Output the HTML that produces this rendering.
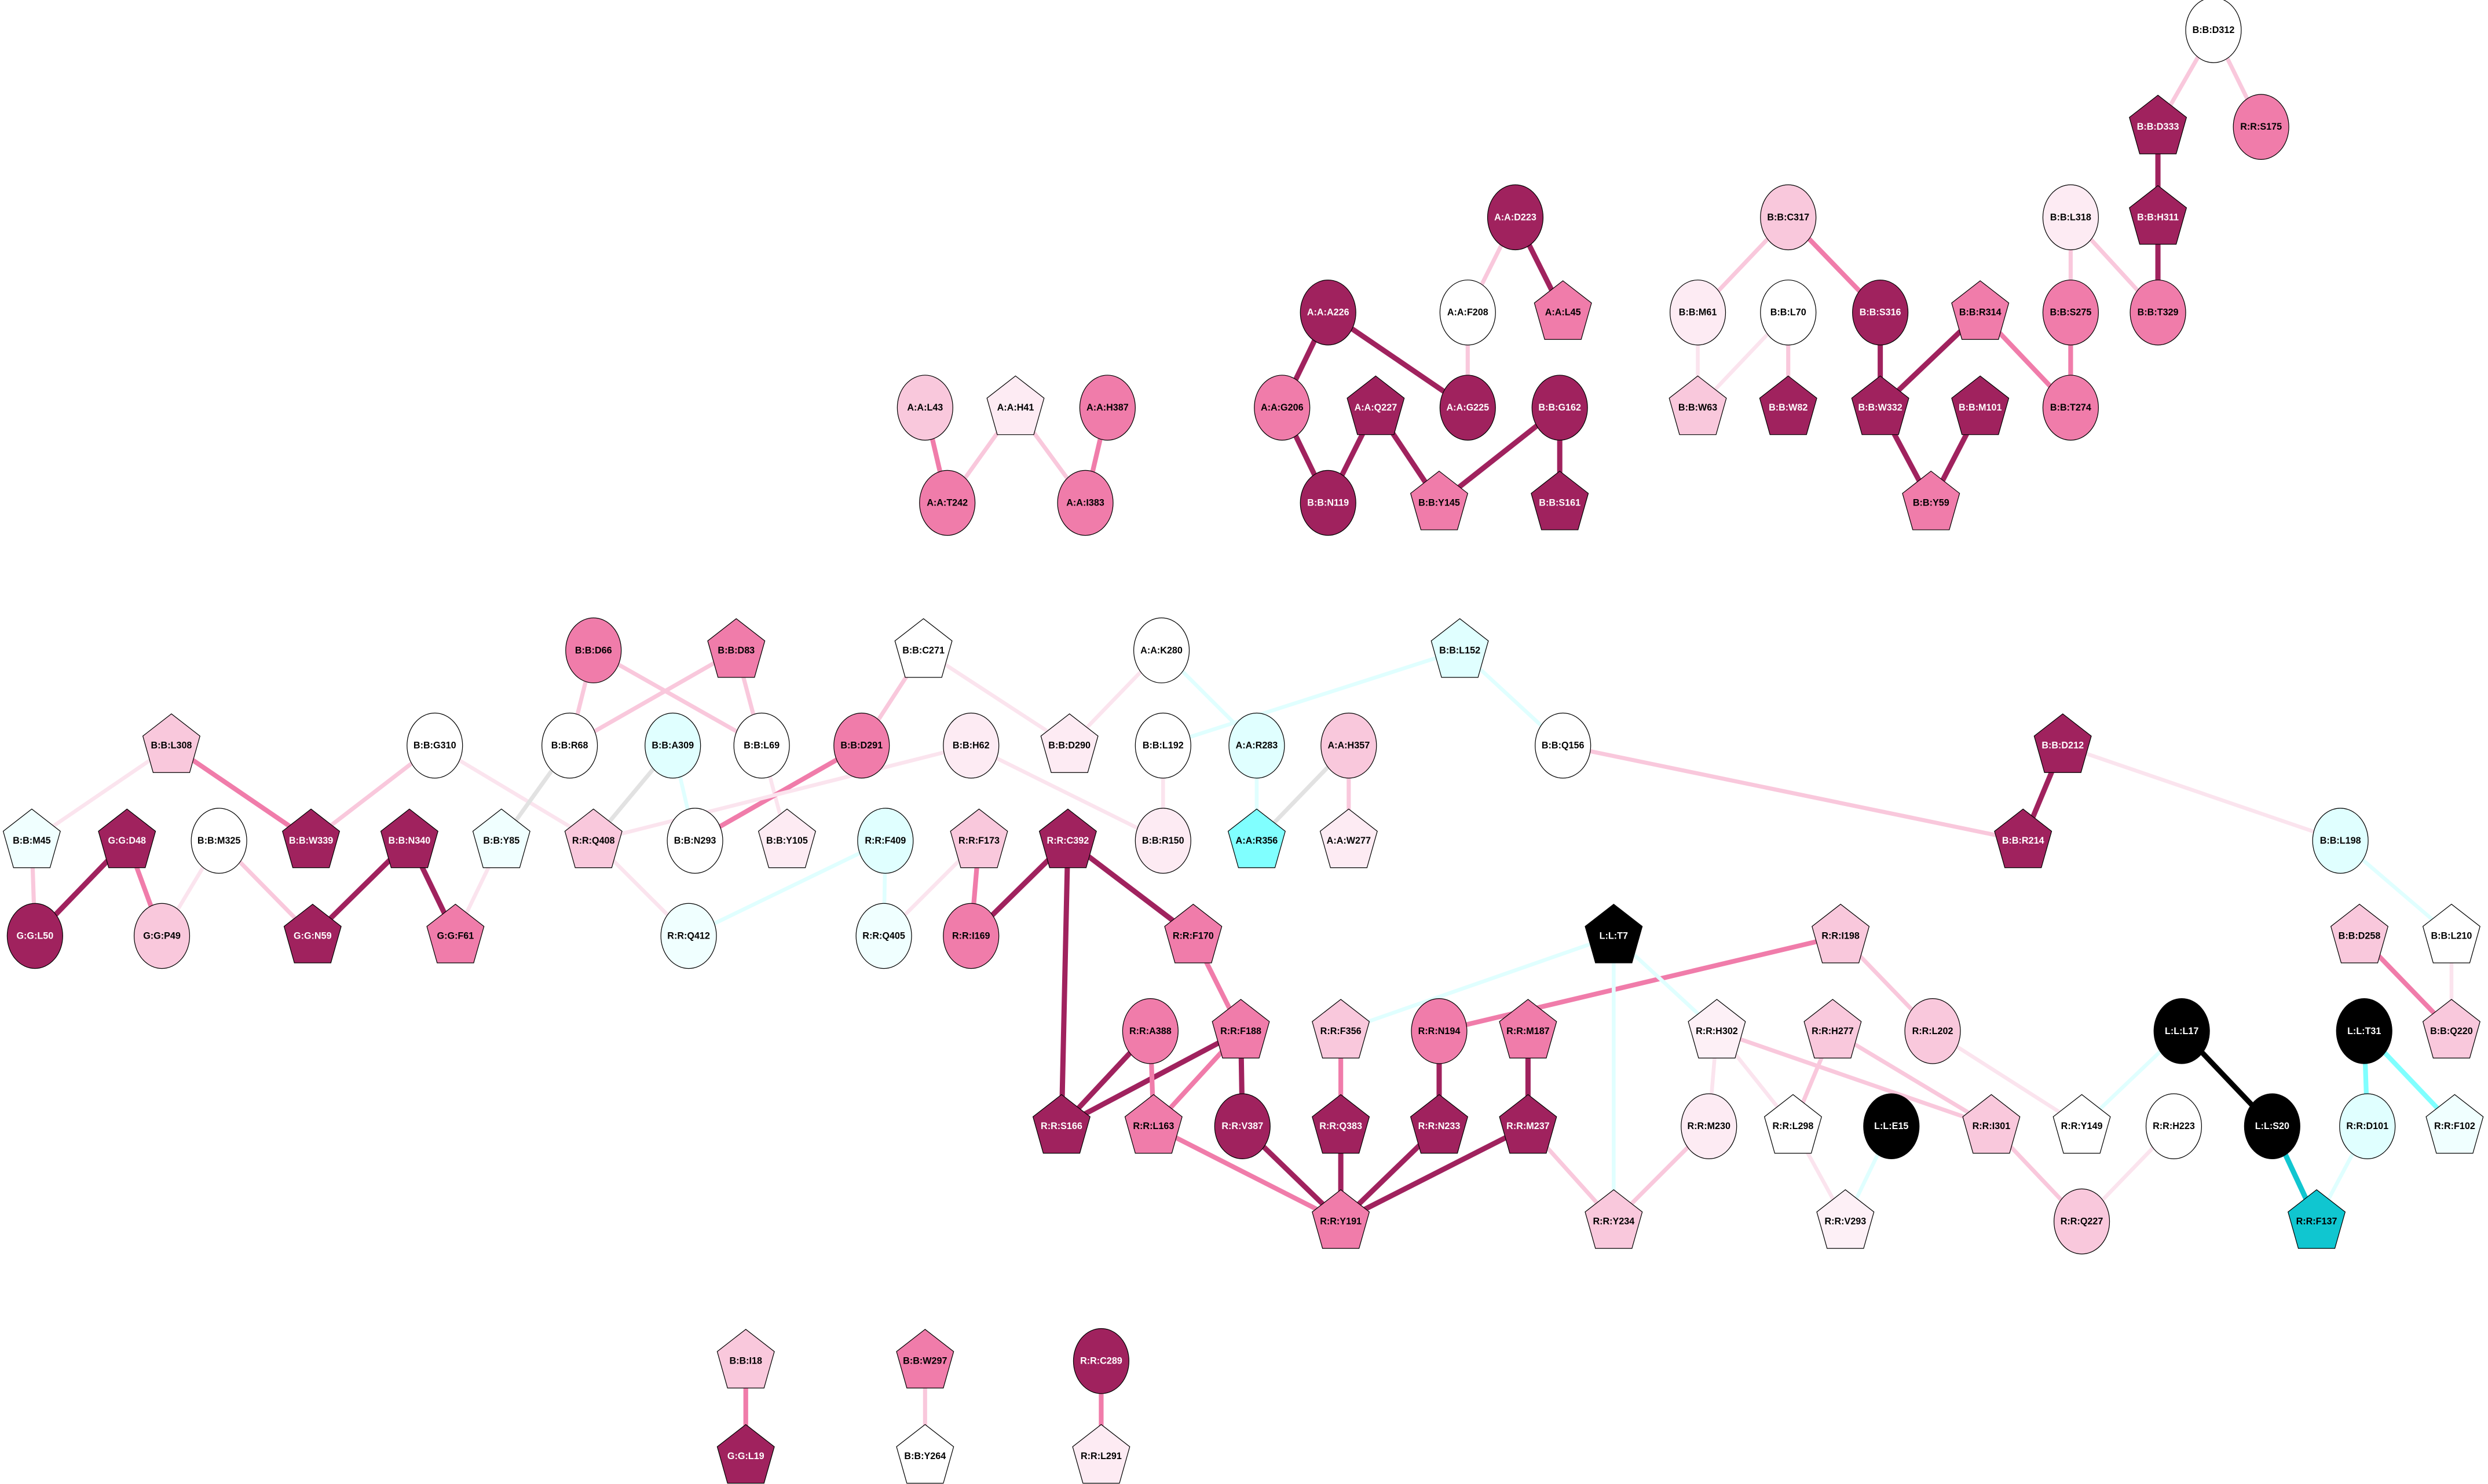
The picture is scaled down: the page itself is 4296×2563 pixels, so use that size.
<!DOCTYPE html>
<html><head><meta charset="utf-8"><style>
html,body{margin:0;padding:0;background:#fff;width:4296px;height:2563px;overflow:hidden}
svg{display:block}
text{font-family:"Liberation Sans",Arial,sans-serif;font-weight:bold;font-size:5.9px;text-anchor:middle;dominant-baseline:central}
.w{fill:#fff}
line{stroke-linecap:butt}
.d{stroke:#a0225e;stroke-width:3.3}
.m{stroke:#f07caa;stroke-width:3}
.l{stroke:#f9c8dc;stroke-width:2.6}
.v{stroke:#fbe4ee;stroke-width:2.4}
.c{stroke:#e0ffff;stroke-width:2.4}
.g{stroke:#e2e2e2;stroke-width:2.6}
.cc{stroke:#80ffff;stroke-width:3}
.k{stroke:#000;stroke-width:3.3}
.dc{stroke:#10c6d0;stroke-width:3.3}
ellipse,use{stroke:#000;stroke-width:0.45}
</style></head><body>
<svg width="4296" height="2563" viewBox="0 0 1568 935.5" xmlns="http://www.w3.org/2000/svg">
<defs><polygon id="p" points="0,-20 18,-6 11.5,17 -11.5,17 -18,-6"/></defs>
<g>
<line class="l" x1="1395" y1="19" x2="1360" y2="80"/>
<line class="l" x1="1395" y1="19" x2="1425" y2="80"/>
<line class="d" x1="1360" y1="80" x2="1360" y2="137"/>
<line class="d" x1="1360" y1="137" x2="1360" y2="197"/>
<line class="l" x1="1305" y1="137" x2="1360" y2="197"/>
<line class="l" x1="1305" y1="137" x2="1305" y2="197"/>
<line class="m" x1="1305" y1="197" x2="1305" y2="257"/>
<line class="m" x1="1248" y1="197" x2="1305" y2="257"/>
<line class="d" x1="1248" y1="197" x2="1185" y2="257"/>
<line class="d" x1="1185" y1="197" x2="1185" y2="257"/>
<line class="m" x1="1127" y1="137" x2="1185" y2="197"/>
<line class="l" x1="1127" y1="137" x2="1070" y2="197"/>
<line class="d" x1="1185" y1="257" x2="1217" y2="317"/>
<line class="d" x1="1248" y1="257" x2="1217" y2="317"/>
<line class="v" x1="1070" y1="197" x2="1070" y2="257"/>
<line class="v" x1="1127" y1="197" x2="1070" y2="257"/>
<line class="l" x1="1127" y1="197" x2="1127" y2="257"/>
<line class="l" x1="955" y1="137" x2="925" y2="197"/>
<line class="d" x1="955" y1="137" x2="985" y2="197"/>
<line class="l" x1="925" y1="197" x2="925" y2="257"/>
<line class="d" x1="837" y1="197" x2="925" y2="257"/>
<line class="d" x1="837" y1="197" x2="808" y2="257"/>
<line class="d" x1="808" y1="257" x2="837" y2="317"/>
<line class="d" x1="867" y1="257" x2="837" y2="317"/>
<line class="d" x1="867" y1="257" x2="907" y2="317"/>
<line class="d" x1="983" y1="257" x2="907" y2="317"/>
<line class="d" x1="983" y1="257" x2="983" y2="317"/>
<line class="m" x1="583" y1="257" x2="597" y2="317"/>
<line class="l" x1="640" y1="257" x2="597" y2="317"/>
<line class="l" x1="640" y1="257" x2="684" y2="317"/>
<line class="m" x1="698" y1="257" x2="684" y2="317"/>

<line class="l" x1="374" y1="410" x2="359" y2="470"/>
<line class="l" x1="374" y1="410" x2="480" y2="470"/>
<line class="l" x1="464" y1="410" x2="359" y2="470"/>
<line class="l" x1="464" y1="410" x2="480" y2="470"/>
<line class="l" x1="582" y1="410" x2="543" y2="470"/>
<line class="v" x1="582" y1="410" x2="674" y2="470"/>
<line class="v" x1="732" y1="410" x2="674" y2="470"/>
<line class="c" x1="732" y1="410" x2="792" y2="470"/>
<line class="c" x1="920" y1="410" x2="733" y2="470"/>
<line class="c" x1="920" y1="410" x2="985" y2="470"/>
<line class="m" x1="108" y1="470" x2="196" y2="530"/>
<line class="v" x1="108" y1="470" x2="20" y2="530"/>
<line class="l" x1="20" y1="530" x2="22" y2="590"/>
<line class="d" x1="80" y1="530" x2="22" y2="590"/>
<line class="m" x1="80" y1="530" x2="102" y2="590"/>
<line class="v" x1="138" y1="530" x2="102" y2="590"/>
<line class="l" x1="138" y1="530" x2="197" y2="590"/>
<line class="l" x1="274" y1="470" x2="196" y2="530"/>
<line class="v" x1="274" y1="470" x2="374" y2="530"/>
<line class="d" x1="258" y1="530" x2="197" y2="590"/>
<line class="d" x1="258" y1="530" x2="287" y2="590"/>
<line class="g" x1="359" y1="470" x2="316" y2="530"/>
<line class="v" x1="316" y1="530" x2="287" y2="590"/>
<line class="g" x1="424" y1="470" x2="374" y2="530"/>
<line class="c" x1="424" y1="470" x2="438" y2="530"/>
<line class="v" x1="480" y1="470" x2="496" y2="530"/>
<line class="m" x1="543" y1="470" x2="438" y2="530"/>
<line class="v" x1="612" y1="470" x2="374" y2="530"/>
<line class="v" x1="612" y1="470" x2="733" y2="530"/>
<line class="v" x1="733" y1="470" x2="733" y2="530"/>
<line class="c" x1="792" y1="470" x2="792" y2="530"/>
<line class="g" x1="850" y1="470" x2="792" y2="530"/>
<line class="l" x1="850" y1="470" x2="850" y2="530"/>
<line class="l" x1="985" y1="470" x2="1275" y2="530"/>
<line class="d" x1="1300" y1="470" x2="1275" y2="530"/>
<line class="v" x1="1300" y1="470" x2="1475" y2="530"/>
<line class="c" x1="1475" y1="530" x2="1545" y2="590"/>
<line class="v" x1="374" y1="530" x2="434" y2="590"/>
<line class="c" x1="558" y1="530" x2="434" y2="590"/>
<line class="c" x1="558" y1="530" x2="557" y2="590"/>
<line class="m" x1="617" y1="530" x2="612" y2="590"/>
<line class="v" x1="617" y1="530" x2="557" y2="590"/>
<line class="d" x1="673" y1="530" x2="612" y2="590"/>
<line class="d" x1="673" y1="530" x2="752" y2="590"/>
<line class="d" x1="673" y1="530" x2="669" y2="710"/>
<line class="m" x1="752" y1="590" x2="782" y2="650"/>
<line class="d" x1="782" y1="650" x2="669" y2="710"/>
<line class="m" x1="782" y1="650" x2="727" y2="710"/>
<line class="d" x1="782" y1="650" x2="783" y2="710"/>
<line class="d" x1="725" y1="650" x2="669" y2="710"/>
<line class="m" x1="725" y1="650" x2="727" y2="710"/>
<line class="m" x1="727" y1="710" x2="845" y2="770"/>
<line class="d" x1="783" y1="710" x2="845" y2="770"/>
<line class="d" x1="845" y1="710" x2="845" y2="770"/>
<line class="m" x1="845" y1="650" x2="845" y2="710"/>
<line class="d" x1="907" y1="710" x2="845" y2="770"/>
<line class="d" x1="907" y1="650" x2="907" y2="710"/>
<line class="m" x1="907" y1="650" x2="1160" y2="590"/>
<line class="d" x1="963" y1="710" x2="845" y2="770"/>
<line class="d" x1="963" y1="650" x2="963" y2="710"/>
<line class="l" x1="963" y1="710" x2="1017" y2="770"/>
<line class="c" x1="1017" y1="590" x2="845" y2="650"/>
<line class="c" x1="1017" y1="590" x2="1082" y2="650"/>
<line class="c" x1="1017" y1="590" x2="1017" y2="770"/>
<line class="v" x1="1082" y1="650" x2="1077" y2="710"/>
<line class="l" x1="1082" y1="650" x2="1255" y2="710"/>
<line class="v" x1="1082" y1="650" x2="1130" y2="710"/>
<line class="l" x1="1155" y1="650" x2="1130" y2="710"/>
<line class="l" x1="1155" y1="650" x2="1255" y2="710"/>
<line class="v" x1="1130" y1="710" x2="1163" y2="770"/>
<line class="c" x1="1192" y1="710" x2="1163" y2="770"/>
<line class="l" x1="1160" y1="590" x2="1218" y2="650"/>
<line class="v" x1="1218" y1="650" x2="1312" y2="710"/>
<line class="c" x1="1375" y1="650" x2="1312" y2="710"/>
<line class="k" x1="1375" y1="650" x2="1432" y2="710"/>
<line class="l" x1="1255" y1="710" x2="1312" y2="770"/>
<line class="v" x1="1370" y1="710" x2="1312" y2="770"/>
<line class="dc" x1="1432" y1="710" x2="1460" y2="770"/>
<line class="c" x1="1492" y1="710" x2="1460" y2="770"/>
<line class="cc" x1="1490" y1="650" x2="1492" y2="710"/>
<line class="cc" x1="1490" y1="650" x2="1547" y2="710"/>
<line class="m" x1="1487" y1="590" x2="1545" y2="650"/>
<line class="v" x1="1545" y1="590" x2="1545" y2="650"/>
<line class="l" x1="1077" y1="710" x2="1017" y2="770"/>
<line class="m" x1="470" y1="858" x2="470" y2="918"/>
<line class="l" x1="583" y1="858" x2="583" y2="918"/>
<line class="m" x1="694" y1="858" x2="694" y2="918"/>
</g>

<!-- nodes -->
<g>
<g transform="translate(1395,19)"><ellipse rx="17.5" ry="20.5" fill="#fff"/><text>B:B:D312</text></g>
<g transform="translate(1360,80)"><use href="#p" fill="#a0225e"/><text class="w">B:B:D333</text></g>
<g transform="translate(1425,80)"><ellipse rx="17.5" ry="20.5" fill="#f07caa"/><text>R:R:S175</text></g>
<g transform="translate(1360,137)"><use href="#p" fill="#a0225e"/><text class="w">B:B:H311</text></g>
<g transform="translate(1305,137)"><ellipse rx="17.5" ry="20.5" fill="#fdebf3"/><text>B:B:L318</text></g>
<g transform="translate(1360,197)"><ellipse rx="17.5" ry="20.5" fill="#f07caa"/><text>B:B:T329</text></g>
<g transform="translate(1305,197)"><ellipse rx="17.5" ry="20.5" fill="#f07caa"/><text>B:B:S275</text></g>
<g transform="translate(1305,257)"><ellipse rx="17.5" ry="20.5" fill="#f07caa"/><text>B:B:T274</text></g>
<g transform="translate(1248,197)"><use href="#p" fill="#f07caa"/><text>B:B:R314</text></g>
<g transform="translate(1248,257)"><use href="#p" fill="#a0225e"/><text class="w">B:B:M101</text></g>
<g transform="translate(1185,197)"><ellipse rx="17.5" ry="20.5" fill="#a0225e"/><text class="w">B:B:S316</text></g>
<g transform="translate(1185,257)"><use href="#p" fill="#a0225e"/><text class="w">B:B:W332</text></g>
<g transform="translate(1217,317)"><use href="#p" fill="#f07caa"/><text>B:B:Y59</text></g>
<g transform="translate(1127,137)"><ellipse rx="17.5" ry="20.5" fill="#f9c8dc"/><text>B:B:C317</text></g>
<g transform="translate(1070,197)"><ellipse rx="17.5" ry="20.5" fill="#fdebf3"/><text>B:B:M61</text></g>
<g transform="translate(1070,257)"><use href="#p" fill="#f9c8dc"/><text>B:B:W63</text></g>
<g transform="translate(1127,197)"><ellipse rx="17.5" ry="20.5" fill="#fff"/><text>B:B:L70</text></g>
<g transform="translate(1127,257)"><use href="#p" fill="#a0225e"/><text class="w">B:B:W82</text></g>
<g transform="translate(955,137)"><ellipse rx="17.5" ry="20.5" fill="#a0225e"/><text class="w">A:A:D223</text></g>
<g transform="translate(925,197)"><ellipse rx="17.5" ry="20.5" fill="#fff"/><text>A:A:F208</text></g>
<g transform="translate(985,197)"><use href="#p" fill="#f07caa"/><text>A:A:L45</text></g>
<g transform="translate(837,197)"><ellipse rx="17.5" ry="20.5" fill="#a0225e"/><text class="w">A:A:A226</text></g>
<g transform="translate(808,257)"><ellipse rx="17.5" ry="20.5" fill="#f07caa"/><text>A:A:G206</text></g>
<g transform="translate(925,257)"><ellipse rx="17.5" ry="20.5" fill="#a0225e"/><text class="w">A:A:G225</text></g>
<g transform="translate(867,257)"><use href="#p" fill="#a0225e"/><text class="w">A:A:Q227</text></g>
<g transform="translate(983,257)"><ellipse rx="17.5" ry="20.5" fill="#a0225e"/><text class="w">B:B:G162</text></g>
<g transform="translate(837,317)"><ellipse rx="17.5" ry="20.5" fill="#a0225e"/><text class="w">B:B:N119</text></g>
<g transform="translate(907,317)"><use href="#p" fill="#f07caa"/><text>B:B:Y145</text></g>
<g transform="translate(983,317)"><use href="#p" fill="#a0225e"/><text class="w">B:B:S161</text></g>
<g transform="translate(583,257)"><ellipse rx="17.5" ry="20.5" fill="#f9c8dc"/><text>A:A:L43</text></g>
<g transform="translate(640,257)"><use href="#p" fill="#fdebf3"/><text>A:A:H41</text></g>
<g transform="translate(698,257)"><ellipse rx="17.5" ry="20.5" fill="#f07caa"/><text>A:A:H387</text></g>
<g transform="translate(597,317)"><ellipse rx="17.5" ry="20.5" fill="#f07caa"/><text>A:A:T242</text></g>
<g transform="translate(684,317)"><ellipse rx="17.5" ry="20.5" fill="#f07caa"/><text>A:A:I383</text></g>

<g transform="translate(374,410)"><ellipse rx="17.5" ry="20.5" fill="#f07caa"/><text>B:B:D66</text></g>
<g transform="translate(464,410)"><use href="#p" fill="#f07caa"/><text>B:B:D83</text></g>
<g transform="translate(582,410)"><use href="#p" fill="#fff"/><text>B:B:C271</text></g>
<g transform="translate(732,410)"><ellipse rx="17.5" ry="20.5" fill="#fff"/><text>A:A:K280</text></g>
<g transform="translate(920,410)"><use href="#p" fill="#e0ffff"/><text>B:B:L152</text></g>
<g transform="translate(108,470)"><use href="#p" fill="#f9c8dc"/><text>B:B:L308</text></g>
<g transform="translate(274,470)"><ellipse rx="17.5" ry="20.5" fill="#fff"/><text>B:B:G310</text></g>
<g transform="translate(359,470)"><ellipse rx="17.5" ry="20.5" fill="#fff"/><text>B:B:R68</text></g>
<g transform="translate(424,470)"><ellipse rx="17.5" ry="20.5" fill="#e0ffff"/><text>B:B:A309</text></g>
<g transform="translate(480,470)"><ellipse rx="17.5" ry="20.5" fill="#fff"/><text>B:B:L69</text></g>
<g transform="translate(543,470)"><ellipse rx="17.5" ry="20.5" fill="#f07caa"/><text>B:B:D291</text></g>
<g transform="translate(612,470)"><ellipse rx="17.5" ry="20.5" fill="#fdebf3"/><text>B:B:H62</text></g>
<g transform="translate(674,470)"><use href="#p" fill="#fdebf3"/><text>B:B:D290</text></g>
<g transform="translate(733,470)"><ellipse rx="17.5" ry="20.5" fill="#fff"/><text>B:B:L192</text></g>
<g transform="translate(792,470)"><ellipse rx="17.5" ry="20.5" fill="#e0ffff"/><text>A:A:R283</text></g>
<g transform="translate(850,470)"><ellipse rx="17.5" ry="20.5" fill="#f9c8dc"/><text>A:A:H357</text></g>
<g transform="translate(985,470)"><ellipse rx="17.5" ry="20.5" fill="#fff"/><text>B:B:Q156</text></g>
<g transform="translate(1300,470)"><use href="#p" fill="#a0225e"/><text class="w">B:B:D212</text></g>
<g transform="translate(20,530)"><use href="#p" fill="#f0ffff"/><text>B:B:M45</text></g>
<g transform="translate(80,530)"><use href="#p" fill="#a0225e"/><text class="w">G:G:D48</text></g>
<g transform="translate(138,530)"><ellipse rx="17.5" ry="20.5" fill="#fff"/><text>B:B:M325</text></g>
<g transform="translate(196,530)"><use href="#p" fill="#a0225e"/><text class="w">B:B:W339</text></g>
<g transform="translate(258,530)"><use href="#p" fill="#a0225e"/><text class="w">B:B:N340</text></g>
<g transform="translate(316,530)"><use href="#p" fill="#f0ffff"/><text>B:B:Y85</text></g>
<g transform="translate(374,530)"><use href="#p" fill="#f9c8dc"/><text>R:R:Q408</text></g>
<g transform="translate(438,530)"><ellipse rx="17.5" ry="20.5" fill="#fff"/><text>B:B:N293</text></g>
<g transform="translate(496,530)"><use href="#p" fill="#fdebf3"/><text>B:B:Y105</text></g>
<g transform="translate(558,530)"><ellipse rx="17.5" ry="20.5" fill="#e0ffff"/><text>R:R:F409</text></g>
<g transform="translate(617,530)"><use href="#p" fill="#f9c8dc"/><text>R:R:F173</text></g>
<g transform="translate(673,530)"><use href="#p" fill="#a0225e"/><text class="w">R:R:C392</text></g>
<g transform="translate(733,530)"><ellipse rx="17.5" ry="20.5" fill="#fdebf3"/><text>B:B:R150</text></g>
<g transform="translate(792,530)"><use href="#p" fill="#80ffff"/><text>A:A:R356</text></g>
<g transform="translate(850,530)"><use href="#p" fill="#fdebf3"/><text>A:A:W277</text></g>
<g transform="translate(1275,530)"><use href="#p" fill="#a0225e"/><text class="w">B:B:R214</text></g>
<g transform="translate(1475,530)"><ellipse rx="17.5" ry="20.5" fill="#e0ffff"/><text>B:B:L198</text></g>
<g transform="translate(22,590)"><ellipse rx="17.5" ry="20.5" fill="#a0225e"/><text class="w">G:G:L50</text></g>
<g transform="translate(102,590)"><ellipse rx="17.5" ry="20.5" fill="#f9c8dc"/><text>G:G:P49</text></g>
<g transform="translate(197,590)"><use href="#p" fill="#a0225e"/><text class="w">G:G:N59</text></g>
<g transform="translate(287,590)"><use href="#p" fill="#f07caa"/><text>G:G:F61</text></g>
<g transform="translate(434,590)"><ellipse rx="17.5" ry="20.5" fill="#f0ffff"/><text>R:R:Q412</text></g>
<g transform="translate(557,590)"><ellipse rx="17.5" ry="20.5" fill="#f0ffff"/><text>R:R:Q405</text></g>
<g transform="translate(612,590)"><ellipse rx="17.5" ry="20.5" fill="#f07caa"/><text>R:R:I169</text></g>
<g transform="translate(752,590)"><use href="#p" fill="#f07caa"/><text>R:R:F170</text></g>
<g transform="translate(1017,590)"><use href="#p" fill="#000"/><text class="w">L:L:T7</text></g>
<g transform="translate(1160,590)"><use href="#p" fill="#f9c8dc"/><text>R:R:I198</text></g>
<g transform="translate(1487,590)"><use href="#p" fill="#f9c8dc"/><text>B:B:D258</text></g>
<g transform="translate(1545,590)"><use href="#p" fill="#fff"/><text>B:B:L210</text></g>
<g transform="translate(725,650)"><ellipse rx="17.5" ry="20.5" fill="#f07caa"/><text>R:R:A388</text></g>
<g transform="translate(782,650)"><use href="#p" fill="#f07caa"/><text>R:R:F188</text></g>
<g transform="translate(845,650)"><use href="#p" fill="#f9c8dc"/><text>R:R:F356</text></g>
<g transform="translate(907,650)"><ellipse rx="17.5" ry="20.5" fill="#f07caa"/><text>R:R:N194</text></g>
<g transform="translate(963,650)"><use href="#p" fill="#f07caa"/><text>R:R:M187</text></g>
<g transform="translate(1082,650)"><use href="#p" fill="#fdf0f6"/><text>R:R:H302</text></g>
<g transform="translate(1155,650)"><use href="#p" fill="#f9c8dc"/><text>R:R:H277</text></g>
<g transform="translate(1218,650)"><ellipse rx="17.5" ry="20.5" fill="#f9c8dc"/><text>R:R:L202</text></g>
<g transform="translate(1375,650)"><ellipse rx="17.5" ry="20.5" fill="#000"/><text class="w">L:L:L17</text></g>
<g transform="translate(1490,650)"><ellipse rx="17.5" ry="20.5" fill="#000"/><text class="w">L:L:T31</text></g>
<g transform="translate(1545,650)"><use href="#p" fill="#f9c8dc"/><text>B:B:Q220</text></g>
<g transform="translate(669,710)"><use href="#p" fill="#a0225e"/><text class="w">R:R:S166</text></g>
<g transform="translate(727,710)"><use href="#p" fill="#f07caa"/><text>R:R:L163</text></g>
<g transform="translate(783,710)"><ellipse rx="17.5" ry="20.5" fill="#a0225e"/><text class="w">R:R:V387</text></g>
<g transform="translate(845,710)"><use href="#p" fill="#a0225e"/><text class="w">R:R:Q383</text></g>
<g transform="translate(907,710)"><use href="#p" fill="#a0225e"/><text class="w">R:R:N233</text></g>
<g transform="translate(963,710)"><use href="#p" fill="#a0225e"/><text class="w">R:R:M237</text></g>
<g transform="translate(1077,710)"><ellipse rx="17.5" ry="20.5" fill="#fdebf3"/><text>R:R:M230</text></g>
<g transform="translate(1130,710)"><use href="#p" fill="#fff"/><text>R:R:L298</text></g>
<g transform="translate(1192,710)"><ellipse rx="17.5" ry="20.5" fill="#000"/><text class="w">L:L:E15</text></g>
<g transform="translate(1255,710)"><use href="#p" fill="#f9c8dc"/><text>R:R:I301</text></g>
<g transform="translate(1312,710)"><use href="#p" fill="#fff"/><text>R:R:Y149</text></g>
<g transform="translate(1370,710)"><ellipse rx="17.5" ry="20.5" fill="#fff"/><text>R:R:H223</text></g>
<g transform="translate(1432,710)"><ellipse rx="17.5" ry="20.5" fill="#000"/><text class="w">L:L:S20</text></g>
<g transform="translate(1492,710)"><ellipse rx="17.5" ry="20.5" fill="#e0ffff"/><text>R:R:D101</text></g>
<g transform="translate(1547,710)"><use href="#p" fill="#f0ffff"/><text>R:R:F102</text></g>
<g transform="translate(845,770)"><use href="#p" fill="#f07caa"/><text>R:R:Y191</text></g>
<g transform="translate(1017,770)"><use href="#p" fill="#f9c8dc"/><text>R:R:Y234</text></g>
<g transform="translate(1163,770)"><use href="#p" fill="#fdf0f6"/><text>R:R:V293</text></g>
<g transform="translate(1312,770)"><ellipse rx="17.5" ry="20.5" fill="#f9c8dc"/><text>R:R:Q227</text></g>
<g transform="translate(1460,770)"><use href="#p" fill="#10c6d0"/><text>R:R:F137</text></g>
<g transform="translate(470,858)"><use href="#p" fill="#f9c8dc"/><text>B:B:I18</text></g>
<g transform="translate(583,858)"><use href="#p" fill="#f07caa"/><text>B:B:W297</text></g>
<g transform="translate(694,858)"><ellipse rx="17.5" ry="20.5" fill="#a0225e"/><text class="w">R:R:C289</text></g>
<g transform="translate(470,918)"><use href="#p" fill="#a0225e"/><text class="w">G:G:L19</text></g>
<g transform="translate(583,918)"><use href="#p" fill="#fff"/><text>B:B:Y264</text></g>
<g transform="translate(694,918)"><use href="#p" fill="#fdebf3"/><text>R:R:L291</text></g>
</g>
</svg>
</body></html>
